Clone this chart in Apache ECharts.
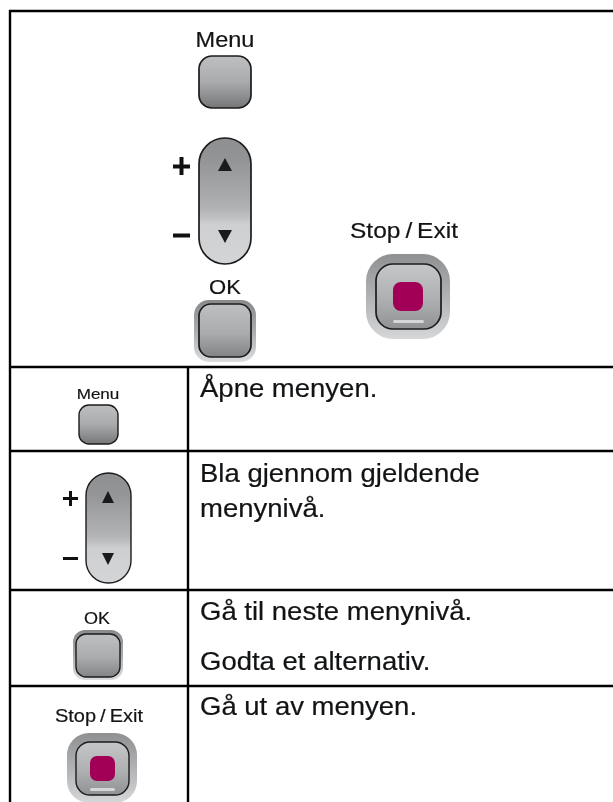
<!DOCTYPE html>
<html><head><meta charset="utf-8">
<style>html,body{margin:0;padding:0;background:#fff}#c{width:613px;height:802px}</style>
<script src="https://cdn.jsdelivr.net/npm/echarts@6/dist/echarts.min.js"></script>
</head><body><div id="c"></div>
<script>
const buttonLabels = ['Menu', 'OK', 'Stop\u2009/\u2009Exit'];
const rowTexts = ['Åpne menyen.', 'Bla gjennom gjeldende', 'menynivå.', 'Gå til neste menynivå.', 'Godta et alternativ.', 'Gå ut av menyen.'];

const FONT = '"Liberation Sans", Arial, sans-serif';
const INK = '#111315';
const grad = stops => new echarts.graphic.LinearGradient(0, 0, 0, 1,
  stops.map(s => ({offset: s[0], color: s[1]})));
const rr = (x0, y0, x1, y1, r, fill, stroke, lw, z) => ({
  type: 'rect', z: z || 2,
  shape: {x: x0, y: y0, width: x1 - x0, height: y1 - y0, r},
  style: {fill, stroke: stroke || null, lineWidth: lw || 0}
});
const line = (x1, y1, x2, y2) => ({
  type: 'line', z: 5, shape: {x1, y1, x2, y2},
  style: {stroke: '#000', lineWidth: 2.4}
});
const txt = (x, base, text, size, align, sx) => ({
  type: 'text', z: 6, x, y: base + 1 - 0.35 * size, scaleX: sx || 1.1,
  style: {text, fontFamily: FONT, fontSize: size, fill: INK, stroke: INK, lineWidth: 0.2,
          align: align || 'left', verticalAlign: 'middle'}
});
const tri = (cx, y0, y1, hw) => ({
  type: 'polygon', z: 4,
  shape: {points: [[cx, y0], [cx + hw, y1], [cx - hw, y1]]},
  style: {fill: '#1a1a1c'}
});
const greyBtn = [[0, '#bfc0c2'], [0.5, '#a9aaac'], [1, '#737577']];
const okBtn = [[0, '#bfc0c2'], [0.55, '#aaabad'], [1, '#808284']];
const halo = [[0, '#87898b'], [0.5, '#aaacae'], [1, '#dcddde']];
const rocker = [[0, '#8d8f91'], [0.18, '#929496'], [0.42, '#a6a7a9'], [0.55, '#b0b1b3'], [0.62, '#bdbec0'], [0.68, '#cdcfd1'], [1, '#d3d5d7']];
const stopOuter = [[0, '#8e9092'], [0.5, '#b0b2b4'], [1, '#d6d7d9']];
const stopInner = [[0, '#c6c7c9'], [0.55, '#aeafb1'], [1, '#8f9193']];

const g = [];
// rules of the table
g.push(line(9, 11, 613, 11), line(10, 10, 10, 802),
       line(9, 367, 613, 367), line(9, 451, 613, 451),
       line(9, 590, 613, 590), line(9, 686, 613, 686),
       line(188, 367, 188, 802));

// large panel
g.push(txt(225, 48, buttonLabels[0], 21.4, 'center'));
g.push(rr(199, 56, 251, 108, 13, grad(greyBtn), '#1c1c1e', 1.7));
g.push(rr(199, 138, 251, 264, 26, grad(rocker), '#1c1c1e', 1.7));
g.push(tri(225, 158, 171, 7), tri(225, 243, 230, 7));
g.push(rr(173, 164.5, 190, 168.5, 0, '#111'), rr(179.5, 157, 183.5, 175, 0, '#111'), rr(173, 233.5, 190, 237.5, 0, '#111'));
g.push(txt(225, 295, buttonLabels[1], 21, 'center', 1.05));
g.push(rr(194, 300, 256, 362, 15, grad(halo)));
g.push(rr(199, 304, 251, 357, 12, grad(okBtn), '#1c1c1e', 1.7));
g.push(txt(404, 239, buttonLabels[2], 22.3, 'center'));
g.push(rr(366, 254, 450, 339, 27, grad(stopOuter)));
g.push(rr(376, 264, 441, 329, 17, grad(stopInner), '#1c1c1e', 1.7));
g.push(rr(393, 282, 423, 311, 8, '#a10056'));
g.push(rr(393, 320, 424, 323, 1.5, '#d5d6d8'));

// table rows: icons
g.push(txt(98, 399, buttonLabels[0], 15.5, 'center'));
g.push(rr(79, 405, 118, 444, 10, grad(greyBtn), '#1c1c1e', 1.4));
g.push(rr(86, 473, 131, 583, 22.5, grad(rocker), '#1c1c1e', 1.4));
g.push(tri(108, 491, 503, 6), tri(108, 565, 553, 6));
g.push(rr(63, 497, 78, 500, 0, '#111'), rr(69, 491, 72, 506, 0, '#111'), rr(63, 557, 78, 560, 0, '#111'));
g.push(txt(97, 624, buttonLabels[1], 16.4, 'center'));
g.push(rr(73, 630, 123, 680, 12, grad(halo)));
g.push(rr(76, 634, 120, 677, 10, grad(okBtn), '#1c1c1e', 1.4));
g.push(txt(99, 722, buttonLabels[2], 18.2, 'center'));
g.push(rr(67, 733, 137, 803, 22, grad(stopOuter)));
g.push(rr(76, 742, 129, 795, 14, grad(stopInner), '#1c1c1e', 1.4));
g.push(rr(90, 756, 115, 781, 7, '#a10056'));
g.push(rr(90, 788, 115, 791, 1.5, '#d5d6d8'));

// table rows: text
g.push(txt(200, 398, rowTexts[0], 25));
g.push(txt(200, 483, rowTexts[1], 25));
g.push(txt(200, 518, rowTexts[2], 25));
g.push(txt(200, 621, rowTexts[3], 25));
g.push(txt(200, 671, rowTexts[4], 25));
g.push(txt(200, 716, rowTexts[5], 25));

const chart = echarts.init(document.getElementById('c'), null, {renderer: 'canvas'});
chart.setOption({animation: false, backgroundColor: '#fff', graphic: {elements: g}});
</script></body></html>
